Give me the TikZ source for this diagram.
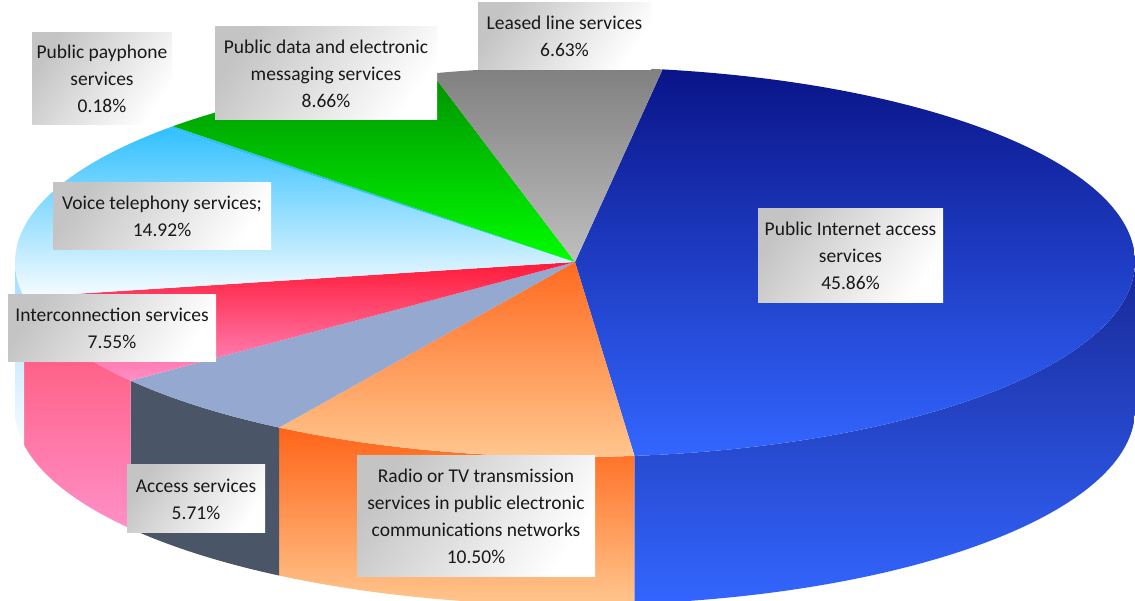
\documentclass[tikz,border=0pt]{standalone}
\usepackage{fontspec}
\setmainfont{Carlito}
\newcommand\lblfont{\fontsize{19.5}{27}\selectfont}
\newcommand\pieside[3]{\path[#3] (#1:560pt and 195pt) arc[start angle=#1,end angle=#2,x radius=560pt,y radius=195pt] -- ++(0,-148) arc[start angle=#2,end angle=#1,x radius=560pt,y radius=195pt] -- cycle;}
\newcommand\pietop[3]{\path[#3] (0,0) -- (#1:560pt and 195pt) arc[start angle=#1,end angle=#2,x radius=560pt,y radius=195pt] -- cycle;}
\definecolor{inetA}{HTML}{0A1488}
\definecolor{inetB}{HTML}{3366FF}
\definecolor{inetS}{HTML}{182896}
\definecolor{radA}{HTML}{FF6A20}
\definecolor{radB}{HTML}{FFC890}
\definecolor{radS}{HTML}{FF6418}
\definecolor{accT}{HTML}{94A8D0}
\definecolor{accS}{HTML}{4A5568}
\definecolor{intA}{HTML}{FF1A38}
\definecolor{intB}{HTML}{FF90C8}
\definecolor{intS}{HTML}{FF5070}
\definecolor{voiA}{HTML}{30C0FF}
\definecolor{voiB}{HTML}{F8FCFF}
\definecolor{voiS}{HTML}{A0DCFF}
\definecolor{datA}{HTML}{009000}
\definecolor{datB}{HTML}{00FF00}
\definecolor{leaA}{HTML}{7F7F7F}
\definecolor{leaB}{HTML}{BFBFBF}
\definecolor{lblgray}{HTML}{C4C4C4}
\begin{document}
\begin{tikzpicture}[x=1pt,y=1pt,
  lbl/.style={inner sep=0pt, align=center, text=black!90, font=\lblfont,
    top color=lblgray, bottom color=white, shading angle=55}]
\useasboundingbox (0,0) rectangle (1135,601);
\begin{scope}[shift={(575,339)}]
  % side walls
  \pieside{-83.9}{0}{top color=inetS, bottom color=inetB}
  \pieside{-121.9}{-83.9}{top color=radS, bottom color=radB}
  \pieside{-142.5}{-121.9}{fill=accS}
  \pieside{-169.6}{-142.5}{top color=intS, bottom color=intB}
  \pieside{-180}{-169.6}{top color=voiS, bottom color=voiB}
  % top faces
  \pietop{81}{-83.9}{top color=inetA, bottom color=inetB}
  \pietop{-83.9}{-121.9}{top color=radA, bottom color=radB}
  \pietop{-121.9}{-142.5}{fill=accT}
  \pietop{-142.5}{-169.6}{top color=intA, bottom color=intB}
  \pietop{-169.6}{-223.4}{top color=voiA, bottom color=voiB}
  \pietop{-223.4}{-224.1}{fill=voiA}
  \pietop{-224.1}{-255.2}{top color=datA, bottom color=datB}
  \pietop{-255.2}{-279}{top color=leaA, bottom color=leaB}
\end{scope}
% labels
\node[lbl, minimum width=140, minimum height=92] (pay) at (102,522) {Public payphone\\services\\0.18\%};
\node[lbl, minimum width=222, minimum height=93] (data) at (326,527.5) {Public data and electronic\\messaging services\\8.66\%};
\node[lbl, minimum width=173, minimum height=67] (lease) at (564.5,564.5) {Leased line services\\6.63\%};
\node[lbl, minimum width=218, minimum height=67] (voice) at (162,384.5) {Voice telephony services;\\14.92\%};
\node[lbl, minimum width=208, minimum height=67] (inter) at (112,272.5) {Interconnection services\\7.55\%};
\node[lbl, minimum width=138, minimum height=68] (access) at (196,102) {Access services\\5.71\%};
\node[lbl, minimum width=238, minimum height=121] (radio) at (476,84.5) {Radio or TV transmission\\services in public electronic\\communications networks\\10.50\%};
\node[lbl, minimum width=185, minimum height=94] (inet) at (850.5,345) {Public Internet access\\services\\45.86\%};
\end{tikzpicture}
\end{document}
